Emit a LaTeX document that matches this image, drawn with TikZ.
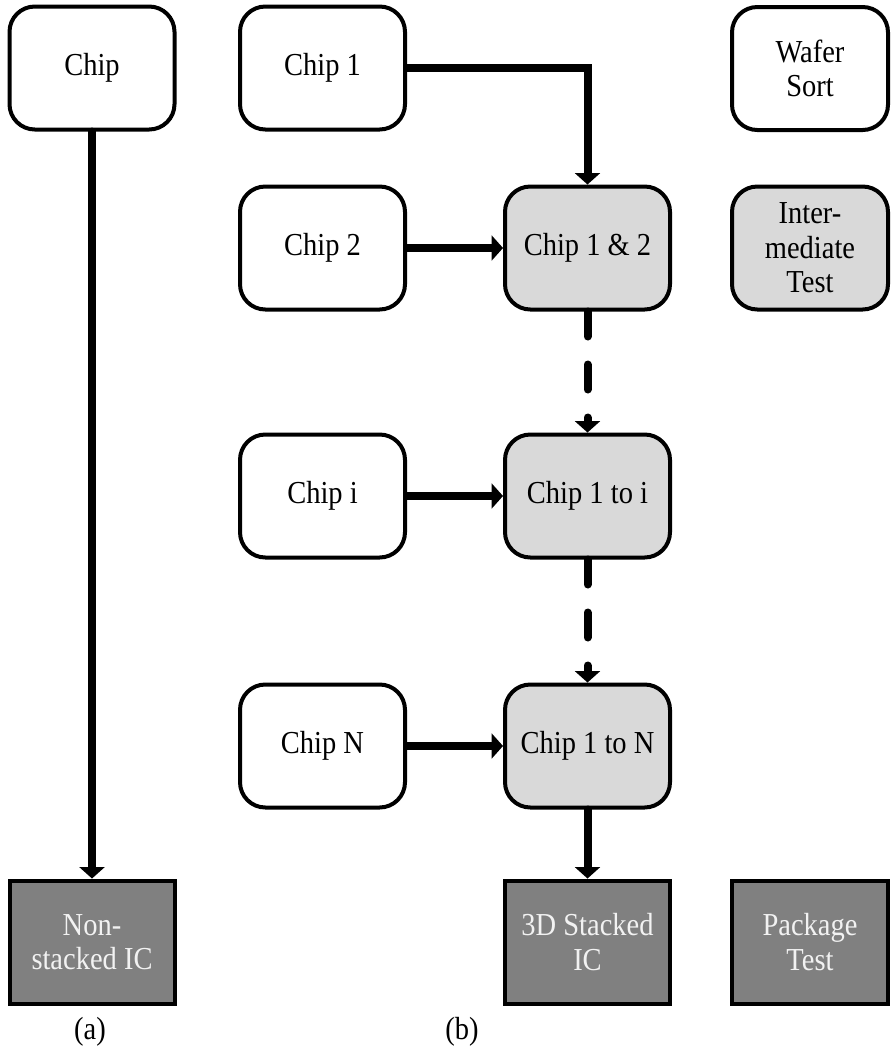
\documentclass[tikz,border=0pt]{standalone}
\usepackage{fontspec}
\setmainfont{Liberation Serif}[FakeStretch=0.89]
\usepackage{tikz}
\usetikzlibrary{arrows.meta, positioning}
\definecolor{stackgray}{RGB}{217,217,217}
\definecolor{icgray}{RGB}{128,128,128}
\definecolor{ictext}{RGB}{242,242,242}

\begin{document}
\begin{tikzpicture}[
  x=0.75pt, y=-0.75pt,
  txt/.style={font=\fontsize{24}{26}\selectfont, align=center},
  chipbox/.style={txt, rectangle, rounded corners=19pt, draw=black, line width=3pt,
                  fill=white, minimum width=123.75pt, minimum height=92.25pt, inner sep=0pt},
  stackbox/.style={chipbox, fill=stackgray},
  icbox/.style={txt, rectangle, draw=black, line width=3pt, fill=icgray, text=ictext,
                minimum width=123.75pt, minimum height=92.25pt, inner sep=0pt},
  narrow/.style={minimum width=117pt},
  arr/.style={-{Triangle[length=8.5pt, width=19pt, line width=0pt]}, line width=6pt, line cap=round},
  dasharr/.style={arr, dash pattern=on 18.75pt off 21pt}
]
\useasboundingbox (0,0) rectangle (892,1058);

% ---- (a): non-stacked flow ----
\node[chipbox] (chip) at (92,68) {Chip};
\node[icbox] (nonstacked) at (92,942) {Non-\\stacked IC};
\node[txt] (lbla) at (90,1032) {(a)};

\draw[arr] (chip) -- (nonstacked);

% ---- (b): stacking flow ----
\node[chipbox] (chip1) at (322.5,68) {Chip 1};
\node[chipbox, below=39.75pt of chip1] (chip2) {Chip 2};
\node[stackbox, right=72pt of chip2] (chip12) {Chip 1 \& 2};
\node[chipbox, below=90.75pt of chip2] (chipi) {Chip i};
\node[stackbox, right=72pt of chipi] (chip1i) {Chip 1 to i};
\node[chipbox, below=92.25pt of chipi] (chipN) {Chip N};
\node[stackbox, right=72pt of chipN] (chip1N) {Chip 1 to N};
\node[icbox, below=51.75pt of chip1N] (stacked) {3D Stacked\\IC};
\node[txt] (lblb) at (462,1032) {(b)};

\draw[arr] (chip1.east) -| (chip12.north);
\draw[arr] (chip2) -- (chip12);
\draw[dasharr] (chip12) -- (chip1i);
\draw[arr] (chipi) -- (chip1i);
\draw[dasharr] (chip1i) -- (chip1N);
\draw[arr] (chipN) -- (chip1N);
\draw[arr] (chip1N) -- (stacked);

% ---- legend ----
\node[chipbox, narrow] (wafer) at (810,68.5) {Wafer\\Sort};
\node[stackbox, narrow, right=43.5pt of chip12] (inter) {Inter-\\mediate\\Test};
\node[icbox, narrow, right=43.5pt of stacked] (pkg) {Package\\Test};

\end{tikzpicture}
\end{document}
